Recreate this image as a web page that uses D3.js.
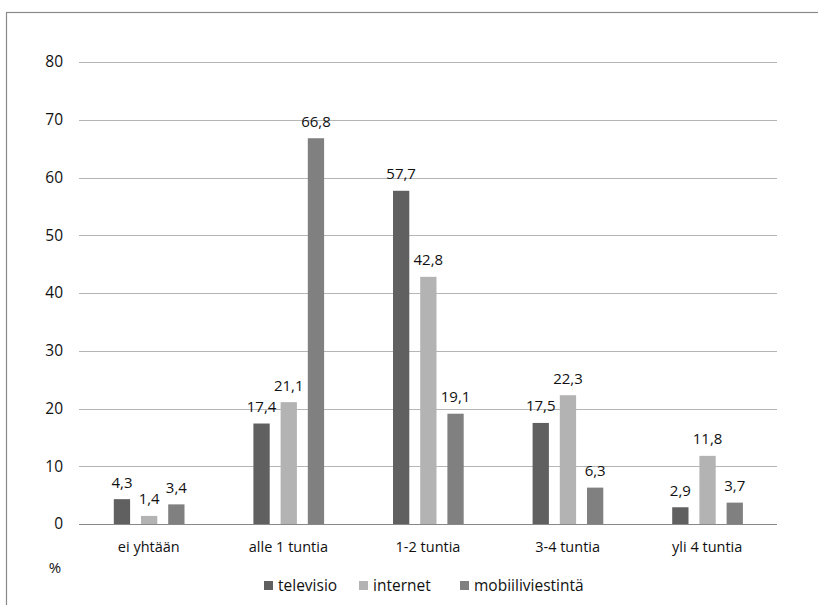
<!DOCTYPE html>
<html><head><meta charset="utf-8">
<script src="https://cdn.jsdelivr.net/npm/d3@7"></script>
<style>
body{margin:0;background:#fff;}
text{font-family:"Open Sans",sans-serif;fill:#111;}
</style></head>
<body><svg id="c" width="818" height="605"></svg>
<script>
const categories = ["ei yhtään","alle 1 tuntia","1-2 tuntia","3-4 tuntia","yli 4 tuntia"];
const seriesNames = ["televisio","internet","mobiiliviestintä"];
const televisio = [4.3,17.4,57.7,17.5,2.9];
const internet = [1.4,21.1,42.8,22.3,11.8];
const mobiiliviestinta = [3.4,66.8,19.1,6.3,3.7];
const yTicks = [0,10,20,30,40,50,60,70,80];
const colors = ["#606060","#b3b3b3","#808080"];
const seriesValues = [televisio, internet, mobiiliviestinta];

(function(){
const svg = d3.select("#c");
svg.append("rect").attr("x",6.5).attr("y",12.5).attr("width",830).attr("height",620)
  .attr("fill","none").attr("stroke","#8a8a8a").attr("stroke-width",1.2);

const pl=79,pr=777,pt=62,pb=524;
const x = d3.scaleBand().domain(categories).range([pl,pr]);
const y = d3.scaleLinear().domain([0,80]).range([pb,pt]);

// gridlines
svg.append("g").selectAll("line").data(yTicks.filter(d=>d>0)).join("line")
  .attr("x1",pl).attr("x2",pr).attr("y1",d=>Math.round(y(d))+0.5).attr("y2",d=>Math.round(y(d))+0.5)
  .attr("stroke","#b5b5b5").attr("stroke-width",1);

// y axis labels
const yAxis = d3.axisLeft(y).tickValues(yTicks).tickSize(0).tickPadding(0);
const ga = svg.append("g").attr("transform",`translate(${pl-16},0)`).call(yAxis);
ga.select(".domain").remove();
ga.selectAll("text").style("font-size","15.5px").attr("fill","#111").style("font-family","'Open Sans',sans-serif");

// bars
const bw=16.3, step=27.2;
seriesValues.forEach((vals,si)=>{
  const g = svg.append("g");
  g.selectAll("rect").data(vals).join("rect")
    .attr("x",(d,i)=>x(categories[i])+x.bandwidth()/2 - 35 + si*step)
    .attr("width",bw)
    .attr("y",d=>y(d)).attr("height",d=>y(0)-y(d))
    .attr("fill",colors[si]);
  g.selectAll("text").data(vals).join("text")
    .attr("x",(d,i)=>x(categories[i])+x.bandwidth()/2 - 35 + si*step + bw/2)
    .attr("y",d=>y(d)-11.5)
    .attr("text-anchor","middle").style("font-size","15px")
    .text(d=>d.toFixed(1).replace(".",","));
});

// x axis line
svg.append("line").attr("x1",pl).attr("x2",pr).attr("y1",pb+0.5).attr("y2",pb+0.5)
  .attr("stroke","#888").attr("stroke-width",1);
const xAxis = d3.axisBottom(x).tickSize(0).tickPadding(18);
const gx = svg.append("g").attr("transform",`translate(0,${pb})`).call(xAxis);
gx.select(".domain").remove();
gx.selectAll("text").style("font-size","14.5px").attr("fill","#111").style("font-family","'Open Sans',sans-serif");

svg.append("text").attr("x",55).attr("y",573).attr("text-anchor","middle").style("font-size","15px").text("%");

// legend
const legX=[264,359,460];
seriesNames.forEach((n,i)=>{
  svg.append("rect").attr("x",legX[i]).attr("y",581).attr("width",9).attr("height",9).attr("fill",colors[i]);
  svg.append("text").attr("x",legX[i]+14).attr("y",591).style("font-size","15.5px").text(n);
});
})();
</script></body></html>
